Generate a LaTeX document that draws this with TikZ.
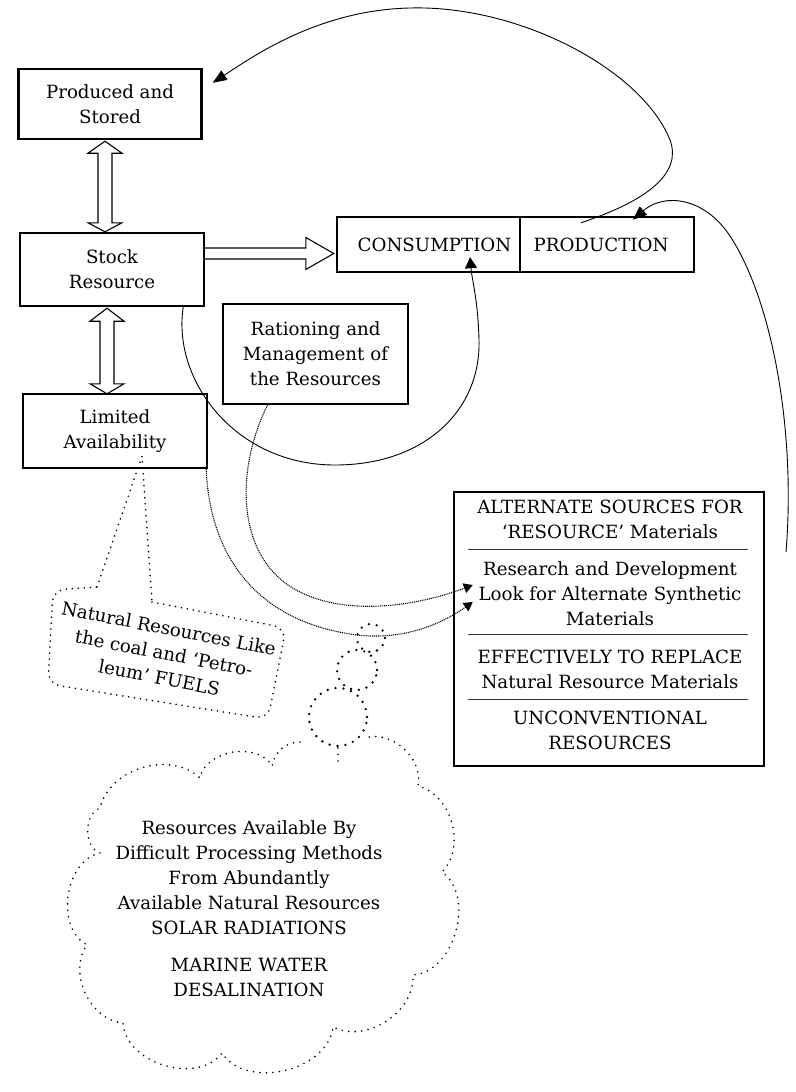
\documentclass[tikz,border=0pt]{standalone}
\usepackage{fontspec}
\setmainfont{DejaVu Serif}
\usetikzlibrary{arrows.meta,calc}
\newcommand\diagfont{\fontsize{18.2}{25}\selectfont}
% vertical hollow double-headed arrow between two tip points
\newcommand\hollowvert[4]{% #1 top tip, #2 bottom tip, #3 top head length, #4 bottom head length
  \draw[hollow] ($(#1)+(-7,#3)$) -- ($(#1)+(-17,#3)$) -- (#1) -- ($(#1)+(17,#3)$) -- ($(#1)+(7,#3)$)
    -- ($(#2)+(7,-#4)$) -- ($(#2)+(17,-#4)$) -- (#2) -- ($(#2)+(-17,-#4)$) -- ($(#2)+(-7,-#4)$) -- cycle;}
\begin{document}
\begin{tikzpicture}[x=1pt,y=-1pt,
  every node/.style={font=\diagfont},
  box/.style={draw,line width=2.4pt,inner sep=0pt,align=center},
  txt/.style={inner sep=0pt,align=center},
  hollow/.style={draw,line width=1.1pt,fill=white,line join=miter},
  flow/.style={line width=0.9pt},
  finedot/.style={line width=1.1pt,dash pattern=on 1pt off 0.9pt},
  bigtip/.style={-{Triangle[length=14pt,width=11pt]}},
  midtip/.style={-{Triangle[length=11pt,width=12pt]}},
  smalltip/.style={-{Triangle[length=9pt,width=10pt]}},
  sep/.style={line width=1.3pt,black!80},
  bubbledots/.style={line width=1.8pt,line cap=round,dash pattern=on 0pt off 6pt},
  thought/.style={line width=2.6pt,line cap=round,dash pattern=on 0pt off 8pt},
  clouddots/.style={line width=1.8pt,line cap=round,dash pattern=on 0pt off 6.5pt}
]
\fill[white] (0,0) rectangle (795,1092);
\useasboundingbox (0,0) rectangle (795,1092);

% boxes
\node[box,minimum width=183pt,minimum height=70pt] (prod) at (110,104) {Produced and\\Stored};
\node[box,minimum width=184pt,minimum height=73pt] (stock) at (112,269.5) {Stock\\Resource};
\node[box,minimum width=184pt,minimum height=74pt] (lim) at (115,431) {Limited\\Availability};
\node[box,minimum width=185pt,minimum height=100pt] (ration) at (315.5,354) {Rationing and\\Management of\\the Resources};
\node[box,minimum width=183pt,minimum height=55pt] (cons) at (428.5,244.5) {\hspace*{12pt}CONSUMPTION};
\node[box,minimum width=174pt,minimum height=55pt] (prodn) at (607,244.5) {PRODUCTION\hspace*{12pt}};
\node[box,minimum width=310pt,minimum height=274pt] (alt) at (609,629) {};

% contents of the alternate sources box
\node[txt] (alt1) at ($(alt.north)+(1,28.5)$) {ALTERNATE SOURCES FOR\\‘RESOURCE’ Materials};
\node[txt] (alt2) at ($(alt.north)+(1,103)$) {Research and Development\\Look for Alternate Synthetic\\Materials};
\node[txt] (alt3) at ($(alt.north)+(1,178.5)$) {EFFECTIVELY TO REPLACE\\Natural Resource Materials};
\node[txt] (alt4) at ($(alt.north)+(1,240)$) {UNCONVENTIONAL\\RESOURCES};
\draw[sep] ($(alt.north west)+(15,59)$) -- ($(alt.north east)+(-17,59)$);
\draw[sep] ($(alt.north west)+(15,144)$) -- ($(alt.north east)+(-17,144)$);
\draw[sep] ($(alt.north west)+(15,209)$) -- ($(alt.north east)+(-17,209)$);

% hollow arrows
\coordinate (a1t) at ($(prod.south)+(-5,1)$);
\coordinate (a1b) at ($(stock.north)+(-7,0)$);
\hollowvert{a1t}{a1b}{12}{9}
\coordinate (a2t) at ($(stock.south)+(-5,1)$);
\coordinate (a2b) at ($(lim.north)+(-8,1)$);
\hollowvert{a2t}{a2b}{13}{10}
\coordinate (h1) at ($(stock.east)+(0,-16)$);
\coordinate (h2) at ($(cons.west)+(-2,9)$);
\draw[hollow] ($(h1)+(0,-5.5)$) -- ($(h2)+(-28,-5.5)$) -- ($(h2)+(-28,-16)$) -- (h2)
  -- ($(h2)+(-28,16)$) -- ($(h2)+(-28,5.5)$) -- ($(h1)+(0,5.5)$);

% production feeds back to the stored stock
\coordinate (c1s) at ($(prodn.north west)+(62,7)$);
\coordinate (c1e) at ($(prod.north east)+(10,15)$);
\draw[flow,bigtip] (c1s) .. controls (650,200) and (682,172) .. (670,140)
  .. controls (642,70) and (520,5) .. (410,8)
  .. controls (320,10) and (255,55) .. (c1e);

% alternate sources feed production
\coordinate (c2s) at (786,552);
\coordinate (c2e) at ($(prodn.north west)+(114,4)$);
\draw[flow,bigtip] (c2s) .. controls (796,430) and (772,300) .. (730,236)
  .. controls (705,198) and (665,192) .. (c2e);

% stock resource loops round to consumption
\coordinate (c3s) at ($(stock.south east)+(-22,0)$);
\coordinate (c3e) at ($(cons.south)+(41.5,-16)$);
\draw[flow,midtip] (c3s) .. controls (172,380) and (235,465) .. (335,465)
  .. controls (425,465) and (481,410) .. (479,340)
  .. controls (478,300) and (472,280) .. (c3e);

% dotted links into research and development
\coordinate (d1s) at ($(ration.south)+(-48,0)$);
\coordinate (d1e) at ($(alt.west)+(20,-44)$);
\draw[finedot,smalltip] (d1s) .. controls (235,470) and (235,560) .. (300,592)
  .. controls (350,617) and (420,605) .. (d1e);
\coordinate (d2s) at ($(lim.south east)+(-2,0)$);
\coordinate (d2e) at ($(alt.west)+(20,-27)$);
\draw[finedot,smalltip] (d2s) .. controls (210,560) and (260,620) .. (350,634)
  .. controls (400,642) and (440,625) .. (d2e);

% speech bubble hanging from limited availability
\coordinate (tailtip) at ($(lim.south)+(27,-13)$);
\draw[bubbledots,rounded corners=12pt] (152,602) -- (286,628) -- (268,719) -- (48,684) -- (53,590) -- (97,587);
\draw[bubbledots] (97,587) -- (tailtip) -- (152,602);
\node[txt,rotate=-11] (natres) at (164,653) {Natural Resources Like\\the coal and ‘Petro-\\leum’ FUELS};

% thought chain and cloud
\draw[thought] (371,638) circle[radius=14pt];
\draw[thought] (357,670) circle[radius=20pt];
\draw[thought] (338,717) circle[radius=29pt];
\draw[clouddots] (300,742) to[bend right=40] (272,766) to[bend right=70] (200,778)
  to[bend right=60] (100,808) to[bend right=70] (100,853) to[bend right=70] (87,945)
  to[bend right=60] (123,1023) to[bend right=70] (222,1053) to[bend right=70] (333,1027)
  to[bend right=60] (413,975) to[bend right=70] (442,872) to[bend right=60] (418,786)
  to[bend right=60] (365,738);
\draw[clouddots] (338,748) -- (338,766);
\node[txt] (cl1) at (249,877.5) {Resources Available By\\Difficult Processing Methods\\From Abundantly\\Available Natural Resources\\SOLAR RADIATIONS};
\node[txt] (cl2) at (249,977.5) {MARINE WATER\\DESALINATION};
\end{tikzpicture}
\end{document}
